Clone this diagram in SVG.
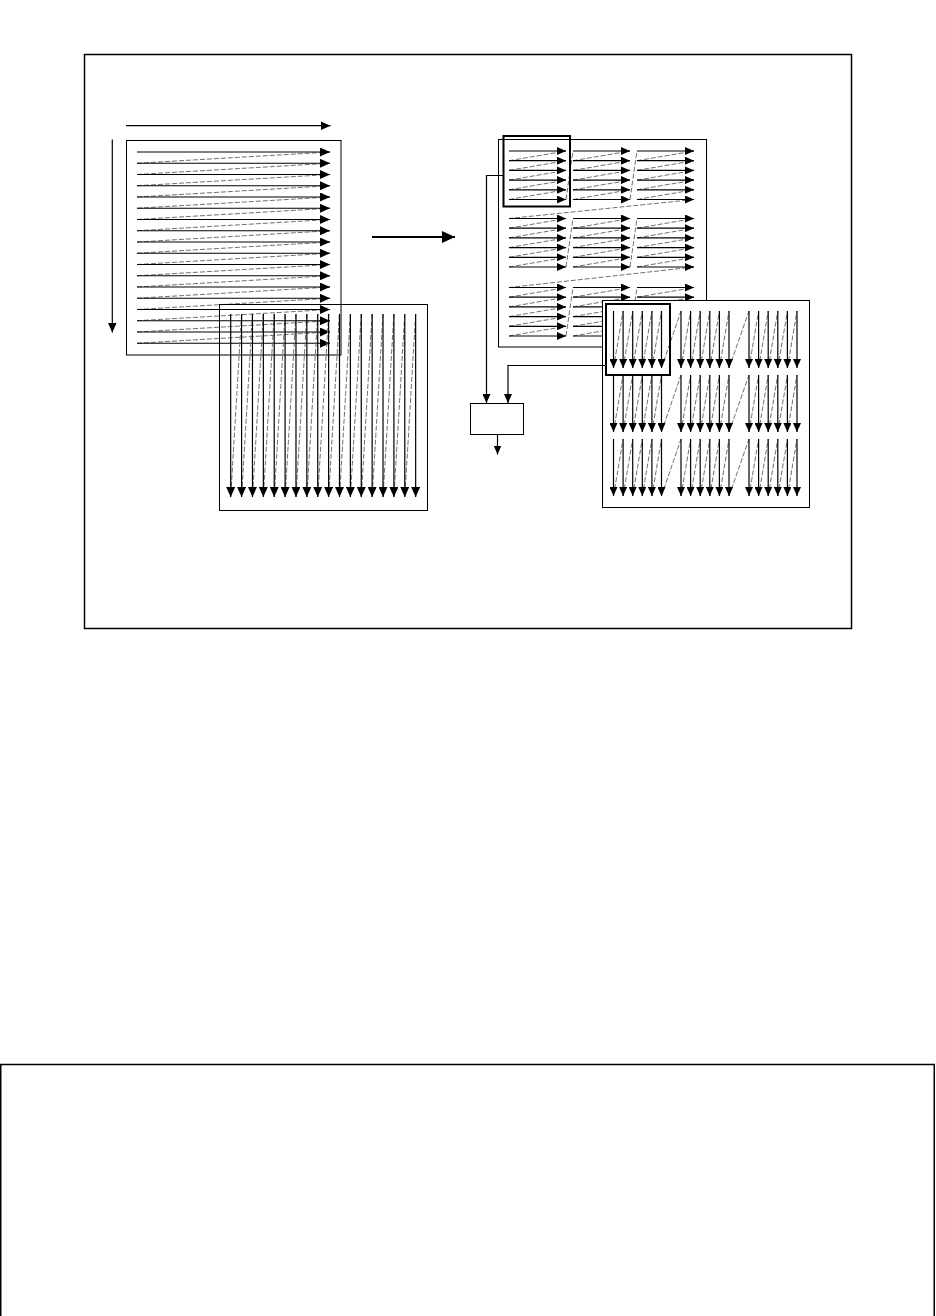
<svg xmlns="http://www.w3.org/2000/svg" width="936" height="1316" viewBox="0 0 936 1316">
<style>
.frame{fill:none;stroke:#000;stroke-width:1.5}
.panel{fill:none;stroke:#000;stroke-width:1}
.panelw{fill:#fff;stroke:#000;stroke-width:1}
.hl{fill:none;stroke:#000;stroke-width:2}
.ar{stroke:#000;stroke-width:1.2;fill:none;marker-end:url(#ah)}
.ars{stroke:#000;stroke-width:1.2;fill:none;marker-end:url(#ahs)}
.ds{stroke:#707070;stroke-width:1;stroke-dasharray:5 2;fill:none}
.box{fill:#fff;stroke:#000;stroke-width:1}
</style>
<defs>
<marker id="ah" markerUnits="userSpaceOnUse" markerWidth="10" markerHeight="9" viewBox="0 0 10 9" refX="10" refY="4.5" orient="auto"><path d="M0,0 L10,4.5 L0,9 z" fill="#000"/></marker>
<marker id="ahs" markerUnits="userSpaceOnUse" markerWidth="9" markerHeight="8" viewBox="0 0 9 8" refX="9" refY="4" orient="auto"><path d="M0,0 L9,4 L0,8 z" fill="#000"/></marker>
<marker id="ahb" markerUnits="userSpaceOnUse" markerWidth="13" markerHeight="12" viewBox="0 0 13 12" refX="13" refY="6" orient="auto"><path d="M0,0 L13,6 L0,12 z" fill="#000"/></marker>
<g id="htile">
<line class="ds" x1="0" y1="9.7" x2="57" y2="0"/>
<line class="ds" x1="0" y1="19.4" x2="57" y2="9.7"/>
<line class="ds" x1="0" y1="29.1" x2="57" y2="19.4"/>
<line class="ds" x1="0" y1="38.8" x2="57" y2="29.1"/>
<line class="ds" x1="0" y1="48.5" x2="57" y2="38.8"/>
<line class="ars" x1="0" y1="0" x2="57" y2="0"/>
<line class="ars" x1="0" y1="9.7" x2="57" y2="9.7"/>
<line class="ars" x1="0" y1="19.4" x2="57" y2="19.4"/>
<line class="ars" x1="0" y1="29.1" x2="57" y2="29.1"/>
<line class="ars" x1="0" y1="38.8" x2="57" y2="38.8"/>
<line class="ars" x1="0" y1="48.5" x2="57" y2="48.5"/>
</g>
<g id="vtile">
<line class="ds" x1="0" y1="57" x2="9.6" y2="0"/>
<line class="ds" x1="9.6" y1="57" x2="19.2" y2="0"/>
<line class="ds" x1="19.2" y1="57" x2="28.8" y2="0"/>
<line class="ds" x1="28.8" y1="57" x2="38.4" y2="0"/>
<line class="ds" x1="38.4" y1="57" x2="48" y2="0"/>
<line class="ars" x1="0" y1="0" x2="0" y2="57"/>
<line class="ars" x1="9.6" y1="0" x2="9.6" y2="57"/>
<line class="ars" x1="19.2" y1="0" x2="19.2" y2="57"/>
<line class="ars" x1="28.8" y1="0" x2="28.8" y2="57"/>
<line class="ars" x1="38.4" y1="0" x2="38.4" y2="57"/>
<line class="ars" x1="48" y1="0" x2="48" y2="57"/>
</g>
</defs>
<rect width="936" height="1316" fill="#fff"/>
<rect id="outer-frame" class="frame" x="84.5" y="54.5" width="767" height="574"/>
<rect id="bottom-frame" class="frame" x="0.75" y="1064.5" width="933.5" height="300"/>

<g id="raster-panel">
<line class="ar" x1="126" y1="125.7" x2="330.5" y2="125.7"/>
<line class="ar" x1="112.3" y1="139.5" x2="112.3" y2="332.5"/>
<rect class="panel" x="126.5" y="140.5" width="214.5" height="214.5"/>
<g>
<line class="ds" x1="137" y1="163.25" x2="330" y2="152"/>
<line class="ds" x1="137" y1="174.5" x2="330" y2="163.25"/>
<line class="ds" x1="137" y1="185.75" x2="330" y2="174.5"/>
<line class="ds" x1="137" y1="197" x2="330" y2="185.75"/>
<line class="ds" x1="137" y1="208.25" x2="330" y2="197"/>
<line class="ds" x1="137" y1="219.5" x2="330" y2="208.25"/>
<line class="ds" x1="137" y1="230.75" x2="330" y2="219.5"/>
<line class="ds" x1="137" y1="242" x2="330" y2="230.75"/>
<line class="ds" x1="137" y1="253.25" x2="330" y2="242"/>
<line class="ds" x1="137" y1="264.5" x2="330" y2="253.25"/>
<line class="ds" x1="137" y1="275.75" x2="330" y2="264.5"/>
<line class="ds" x1="137" y1="287" x2="330" y2="275.75"/>
<line class="ds" x1="137" y1="298.25" x2="330" y2="287"/>
<line class="ds" x1="137" y1="309.5" x2="330" y2="298.25"/>
<line class="ds" x1="137" y1="320.75" x2="330" y2="309.5"/>
<line class="ds" x1="137" y1="332" x2="330" y2="320.75"/>
<line class="ds" x1="137" y1="343.25" x2="330" y2="332"/>
</g>
<g>
<line class="ar" x1="137" y1="152" x2="330" y2="152"/>
<line class="ar" x1="137" y1="163.25" x2="330" y2="163.25"/>
<line class="ar" x1="137" y1="174.5" x2="330" y2="174.5"/>
<line class="ar" x1="137" y1="185.75" x2="330" y2="185.75"/>
<line class="ar" x1="137" y1="197" x2="330" y2="197"/>
<line class="ar" x1="137" y1="208.25" x2="330" y2="208.25"/>
<line class="ar" x1="137" y1="219.5" x2="330" y2="219.5"/>
<line class="ar" x1="137" y1="230.75" x2="330" y2="230.75"/>
<line class="ar" x1="137" y1="242" x2="330" y2="242"/>
<line class="ar" x1="137" y1="253.25" x2="330" y2="253.25"/>
<line class="ar" x1="137" y1="264.5" x2="330" y2="264.5"/>
<line class="ar" x1="137" y1="275.75" x2="330" y2="275.75"/>
<line class="ar" x1="137" y1="287" x2="330" y2="287"/>
<line class="ar" x1="137" y1="298.25" x2="330" y2="298.25"/>
<line class="ar" x1="137" y1="309.5" x2="330" y2="309.5"/>
<line class="ar" x1="137" y1="320.75" x2="330" y2="320.75"/>
<line class="ar" x1="137" y1="332" x2="330" y2="332"/>
<line class="ar" x1="137" y1="343.25" x2="330" y2="343.25"/>
</g>
</g>

<g id="column-panel">
<rect class="panel" x="219.5" y="304.5" width="208" height="206"/>
<g>
<line class="ds" x1="241.58" y1="314" x2="230.7" y2="497"/>
<line class="ds" x1="252.46" y1="314" x2="241.58" y2="497"/>
<line class="ds" x1="263.34" y1="314" x2="252.46" y2="497"/>
<line class="ds" x1="274.22" y1="314" x2="263.34" y2="497"/>
<line class="ds" x1="285.1" y1="314" x2="274.22" y2="497"/>
<line class="ds" x1="295.98" y1="314" x2="285.1" y2="497"/>
<line class="ds" x1="306.86" y1="314" x2="295.98" y2="497"/>
<line class="ds" x1="317.74" y1="314" x2="306.86" y2="497"/>
<line class="ds" x1="328.62" y1="314" x2="317.74" y2="497"/>
<line class="ds" x1="339.5" y1="314" x2="328.62" y2="497"/>
<line class="ds" x1="350.38" y1="314" x2="339.5" y2="497"/>
<line class="ds" x1="361.26" y1="314" x2="350.38" y2="497"/>
<line class="ds" x1="372.14" y1="314" x2="361.26" y2="497"/>
<line class="ds" x1="383.02" y1="314" x2="372.14" y2="497"/>
<line class="ds" x1="393.9" y1="314" x2="383.02" y2="497"/>
<line class="ds" x1="404.78" y1="314" x2="393.9" y2="497"/>
<line class="ds" x1="415.66" y1="314" x2="404.78" y2="497"/>
</g>
<g>
<line class="ar" x1="230.7" y1="314" x2="230.7" y2="497"/>
<line class="ar" x1="241.58" y1="314" x2="241.58" y2="497"/>
<line class="ar" x1="252.46" y1="314" x2="252.46" y2="497"/>
<line class="ar" x1="263.34" y1="314" x2="263.34" y2="497"/>
<line class="ar" x1="274.22" y1="314" x2="274.22" y2="497"/>
<line class="ar" x1="285.1" y1="314" x2="285.1" y2="497"/>
<line class="ar" x1="295.98" y1="314" x2="295.98" y2="497"/>
<line class="ar" x1="306.86" y1="314" x2="306.86" y2="497"/>
<line class="ar" x1="317.74" y1="314" x2="317.74" y2="497"/>
<line class="ar" x1="328.62" y1="314" x2="328.62" y2="497"/>
<line class="ar" x1="339.5" y1="314" x2="339.5" y2="497"/>
<line class="ar" x1="350.38" y1="314" x2="350.38" y2="497"/>
<line class="ar" x1="361.26" y1="314" x2="361.26" y2="497"/>
<line class="ar" x1="372.14" y1="314" x2="372.14" y2="497"/>
<line class="ar" x1="383.02" y1="314" x2="383.02" y2="497"/>
<line class="ar" x1="393.9" y1="314" x2="393.9" y2="497"/>
<line class="ar" x1="404.78" y1="314" x2="404.78" y2="497"/>
<line class="ar" x1="415.66" y1="314" x2="415.66" y2="497"/>
</g>
</g>

<g id="tiled-raster-panel">
<rect class="panel" x="498.5" y="139.5" width="208" height="207.5"/>
<g class="tile-links">
<line class="ds" x1="566" y1="199.5" x2="573" y2="151"/>
<line class="ds" x1="630" y1="199.5" x2="637" y2="151"/>
<line class="ds" x1="694" y1="199.5" x2="509" y2="218.5"/>
<line class="ds" x1="566" y1="267" x2="573" y2="218.5"/>
<line class="ds" x1="630" y1="267" x2="637" y2="218.5"/>
<line class="ds" x1="694" y1="267" x2="509" y2="287.5"/>
<line class="ds" x1="566" y1="336" x2="573" y2="287.5"/>
<line class="ds" x1="630" y1="336" x2="637" y2="287.5"/>
</g>
<use href="#htile" x="509" y="151"/>
<use href="#htile" x="573" y="151"/>
<use href="#htile" x="637" y="151"/>
<use href="#htile" x="509" y="218.5"/>
<use href="#htile" x="573" y="218.5"/>
<use href="#htile" x="637" y="218.5"/>
<use href="#htile" x="509" y="287.5"/>
<use href="#htile" x="573" y="287.5"/>
<use href="#htile" x="637" y="287.5"/>
<rect class="hl" x="503.5" y="136" width="66.5" height="70.5"/>
</g>

<g id="tiled-column-panel">
<rect class="panelw" x="602.5" y="300.5" width="207" height="207"/>
<g class="tile-links">
<line class="ds" x1="661.5" y1="368" x2="681" y2="311"/>
<line class="ds" x1="729" y1="368" x2="749" y2="311"/>
<line class="ds" x1="661.5" y1="432" x2="681" y2="375"/>
<line class="ds" x1="729" y1="432" x2="749" y2="375"/>
<line class="ds" x1="661.5" y1="496" x2="681" y2="439"/>
<line class="ds" x1="729" y1="496" x2="749" y2="439"/>
</g>
<use href="#vtile" x="613.5" y="311"/>
<use href="#vtile" x="681" y="311"/>
<use href="#vtile" x="749" y="311"/>
<use href="#vtile" x="613.5" y="375"/>
<use href="#vtile" x="681" y="375"/>
<use href="#vtile" x="749" y="375"/>
<use href="#vtile" x="613.5" y="439"/>
<use href="#vtile" x="681" y="439"/>
<use href="#vtile" x="749" y="439"/>
<rect class="hl" x="606" y="304" width="64" height="71"/>
</g>

<g id="combiner">
<rect class="box" x="470.5" y="403.5" width="53" height="31"/>
</g>

<g id="connectors">
<line x1="372" y1="237" x2="455" y2="237" stroke="#000" stroke-width="2" marker-end="url(#ahb)"/>
<polyline class="ars" points="503.5,175.5 486.5,175.5 486.5,403"/>
<polyline class="ars" points="606,365.5 508,365.5 508,403"/>
<line class="ars" x1="497.5" y1="434.5" x2="497.5" y2="454.5"/>
</g>
</svg>
